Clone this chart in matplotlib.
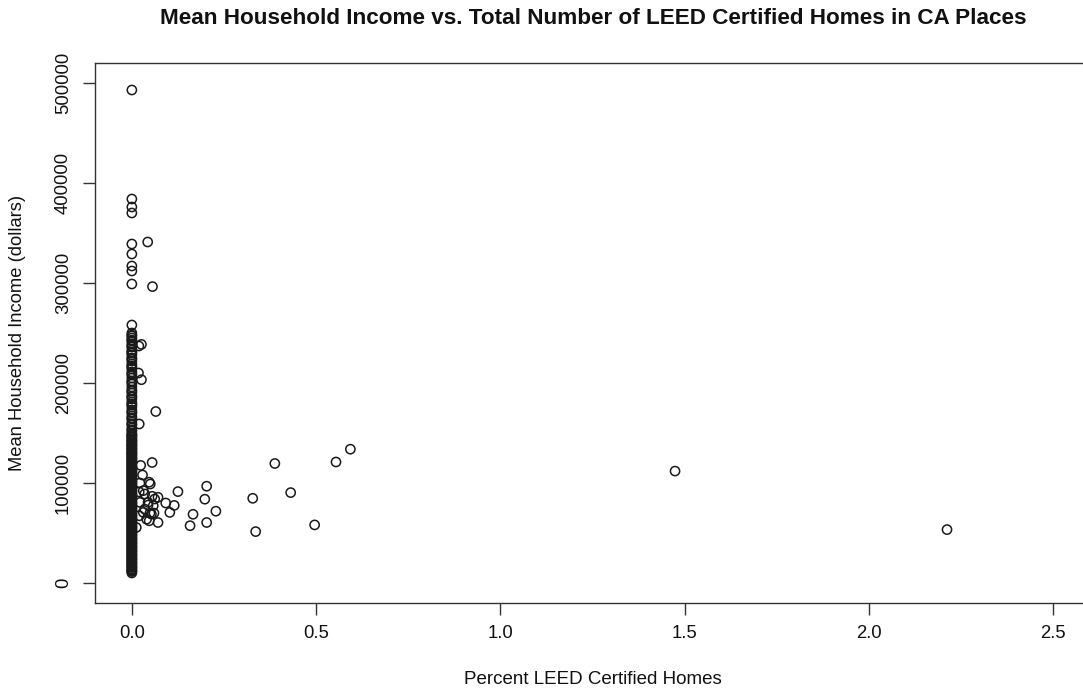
import matplotlib.pyplot as plt
import numpy as np

plt.rcParams['font.family'] = ['Liberation Sans', 'DejaVu Sans']

# Places with no LEED homes (x = 0), mean income in thousands of dollars
zero_income_k = [493, 384, 376, 370, 339, 329, 317, 312, 299, 258,
                 250, 247, 245, 242, 239, 236, 233, 231, 228, 225, 222, 219,
                 216, 214, 211, 208, 205, 202, 199, 196, 193, 190, 187, 184,
                 181, 178, 176, 173, 170, 167, 164, 161, 158, 155, 152,
                 149.5, 147.5, 145.5, 143, 141.5, 139, 137.5, 135, 133.5, 131,
                 129.5, 127.5, 125, 123.5, 121, 119.5, 117, 115.5, 113, 111.5,
                 109, 107.5, 105, 103.5, 101, 99.5, 97, 95.5, 93, 91.5, 89,
                 87.5, 85, 83.5, 81, 79.5, 77, 75.5, 73, 71.5, 69, 67.5, 65,
                 63.5, 61, 59.5, 57, 55.5, 53, 51.5, 49, 47.5, 45, 43.5, 41,
                 39.5, 37, 35.5, 33, 31.5, 29, 27.5, 25, 23.5, 21, 19.5, 17,
                 15.5, 13, 11.5, 10]
# more zero-LEED places, filling the dense part of the column
zero_income_k2 = [248, 243, 237, 230, 224, 217, 209, 201, 192, 186,
                  179, 171, 165, 159, 153, 148.5, 146.5, 144, 142, 140,
                  138, 136, 134, 132, 130, 128, 126, 124, 122, 120, 118, 116,
                  114, 112, 110, 108, 106, 104, 102, 100, 98, 96, 94, 92, 90,
                  88, 86, 84, 82, 80, 78, 76, 74, 72, 70, 68, 66, 64, 62, 60,
                  58, 56, 54, 52, 50, 48, 46, 44, 42, 40, 38, 36, 34, 32, 30,
                  28, 26, 24, 22, 20, 18, 16, 14, 12]

# Places with some LEED homes
leed_pct = [0.043, 0.056, 0.026, 0.019, 0.018, 0.026, 0.065, 0.020, 0.055,
            0.024, 0.029, 0.047, 0.050, 0.022, 0.125, 0.203, 0.198, 0.035,
            0.020, 0.055, 0.071, 0.062, 0.092, 0.115, 0.228, 0.166, 0.158,
            0.203, 0.071, 0.040, 0.047, 0.053, 0.060, 0.049, 0.103, 0.058,
            0.035, 0.044, 0.044, 0.022, 0.031, 0.031, 0.020, 0.012, 0.328,
            0.388, 0.431, 0.336, 0.496, 0.554, 0.593, 1.474, 2.212]
leed_income_k = [341, 296.4, 238.6, 237, 210, 203.3, 171.5, 159, 120.5,
                 117.6, 108, 100.8, 99, 100, 91.4, 96.8, 83.8, 89,
                 91, 86.7, 85.7, 84, 80, 77.6, 71.8, 68.7, 57.3,
                 60.5, 60.5, 63.8, 62.2, 68.9, 69.9, 69.9, 70.6, 77.3,
                 73.9, 80.6, 77.9, 80.6, 92.4, 70.6, 67.2, 55.5, 84.7,
                 119.5, 90.4, 51.4, 58.1, 121, 133.8, 111.9, 53.4]

zeros = zero_income_k + zero_income_k2
x = np.concatenate([np.zeros(len(zeros)), leed_pct])
y = np.concatenate([zeros, leed_income_k]) * 1000

fig = plt.figure(figsize=(10.83, 6.93), dpi=100)
ax = fig.add_axes([95 / 1083, 90 / 693, 995 / 1083, 540 / 693])

ax.scatter(x, y, s=44, facecolors='none', edgecolors='#1a1a1a', linewidths=1.1)

ax.set_xlim(-0.1, 2.6)
ax.set_ylim(-20000, 520000)
ax.set_xticks([0.0, 0.5, 1.0, 1.5, 2.0, 2.5])
ax.set_xticklabels(['0.0', '0.5', '1.0', '1.5', '2.0', '2.5'])
ax.set_yticks([0, 100000, 200000, 300000, 400000, 500000])
ax.set_yticklabels(['0', '100000', '200000', '300000', '400000', '500000'],
                   rotation=90, va='center')

for sp in ax.spines.values():
    sp.set_linewidth(1.0)
    sp.set_color('#333333')
ax.tick_params(direction='out', length=8.5, width=1.0, color='#333333',
               labelsize=13.3, labelcolor='#111111')
ax.tick_params(axis='x', pad=7)
ax.tick_params(axis='y', pad=8)

fig.text(593 / 1083, 1 - 18 / 693,
         'Mean Household Income vs. Total Number of LEED Certified Homes in CA Places',
         ha='center', va='center', fontsize=16.2, fontweight='bold', color='#111111')
fig.text(593 / 1083, 1 - 680 / 693, 'Percent LEED Certified Homes',
         ha='center', va='center', fontsize=13.5, color='#111111')
fig.text(18 / 1083, 1 - 333 / 693, 'Mean Household Income (dollars)',
         ha='center', va='center', rotation=90, fontsize=13.2, color='#111111')

fig.savefig('out.png', dpi=100)
